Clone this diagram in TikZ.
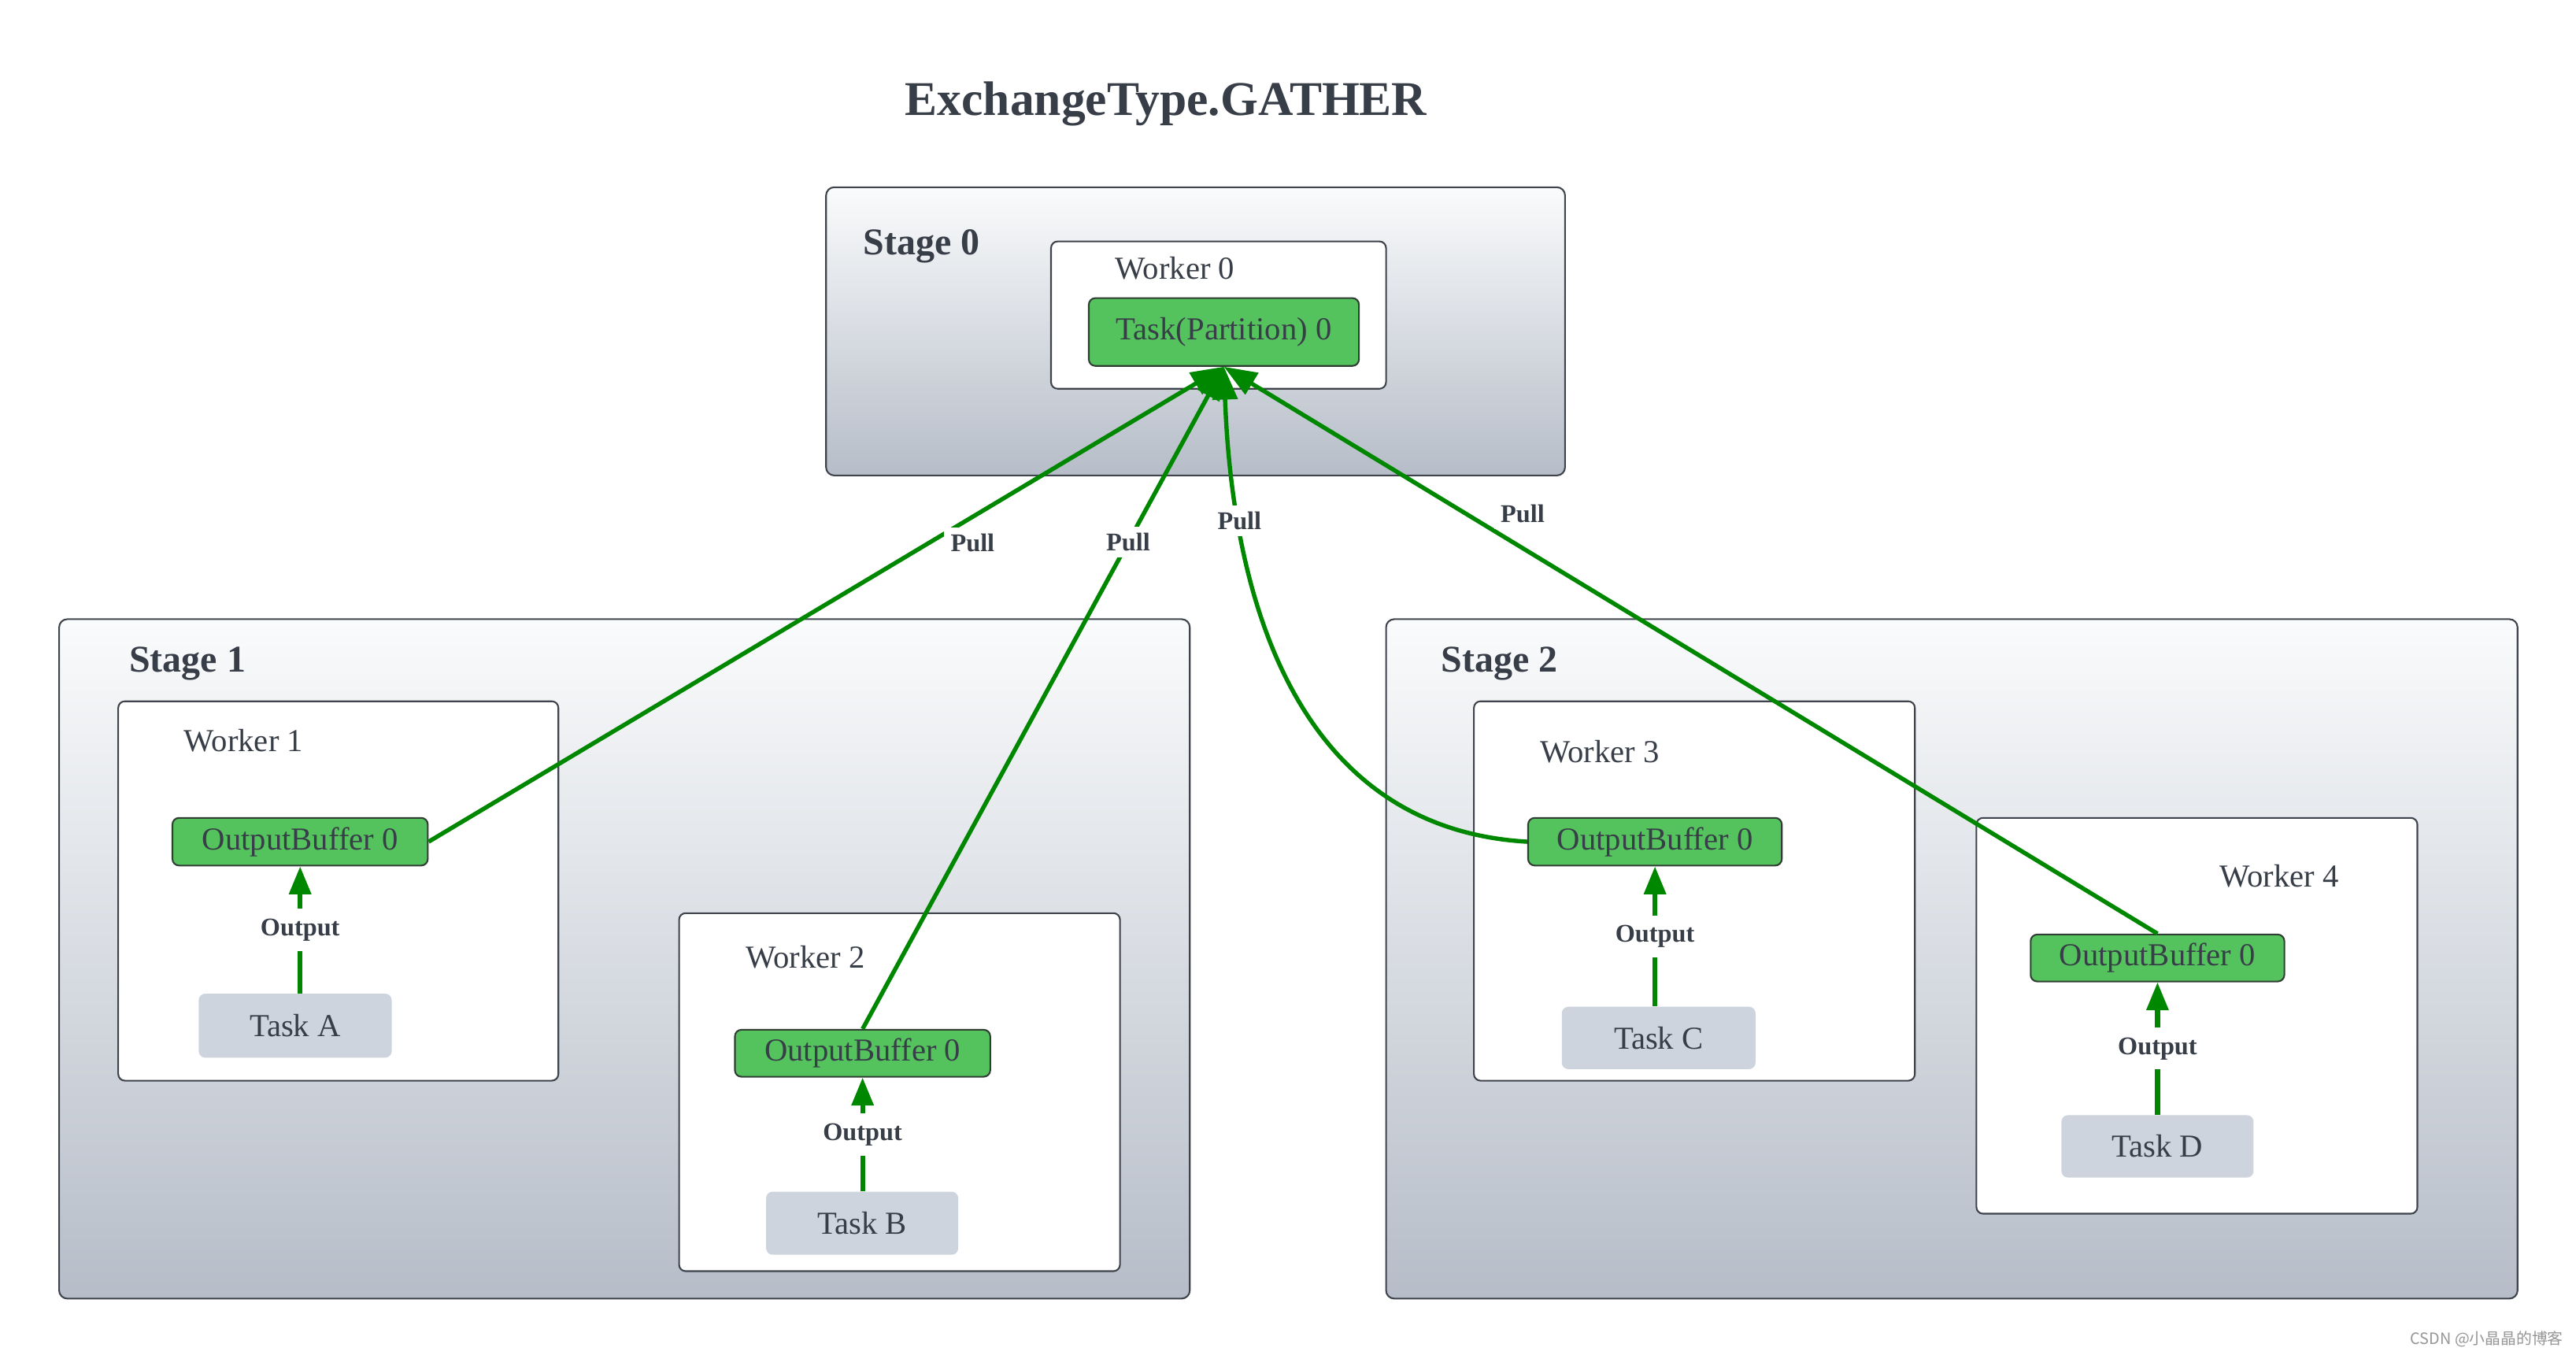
\documentclass[tikz,border=0pt]{standalone}
\usepackage{fontspec}
\setmainfont{Liberation Serif}
\newfontfamily\cjkfont{Noto Sans CJK SC}
\usetikzlibrary{arrows.meta}

\definecolor{txt}{RGB}{56,62,72}
\definecolor{edge}{RGB}{62,67,76}
\definecolor{stagetop}{RGB}{250,251,252}
\definecolor{stagebot}{RGB}{182,189,200}
\definecolor{bufgreen}{RGB}{85,195,93}
\definecolor{bufedge}{RGB}{48,62,52}
\definecolor{taskgray}{RGB}{206,212,221}
\definecolor{flow}{RGB}{0,135,0}
\definecolor{wm}{RGB}{150,150,150}

\newcommand\setfs[1]{\fontsize{#1}{#1}\selectfont}

\begin{document}
\begin{tikzpicture}[x=1pt,y=-1pt,
  stagebox/.style={draw=edge, line width=1pt, rounded corners=5pt, top color=stagetop, bottom color=stagebot, inner sep=0pt},
  workerbox/.style={draw=edge, line width=1pt, rounded corners=4pt, fill=white, inner sep=0pt},
  bufbox/.style={draw=bufedge, line width=1pt, rounded corners=4pt, fill=bufgreen, inner sep=0pt, text=txt, font=\setfs{19.5}},
  taskbox/.style={draw=none, rounded corners=4pt, fill=taskgray, inner sep=0pt, text=txt, font=\setfs{19.5}},
  stagelabel/.style={anchor=base west, inner sep=0pt, text=txt, font=\bfseries\setfs{23}},
  workerlabel/.style={anchor=base west, inner sep=0pt, text=txt, font=\setfs{19.5}},
  outarrow/.style={draw=flow, line width=3pt, -{Triangle[length=17pt,width=13pt]}},
  pullarrow/.style={draw=flow, line width=2.6pt, -{Triangle[length=20pt,width=15pt]}},
  outlabel/.style={fill=white, inner xsep=2pt, inner ysep=6pt, text=txt, font=\bfseries\setfs{15.5}},
  pulllabel/.style={fill=white, inner sep=4pt, text=txt, font=\bfseries\setfs{15.5}}
]
\fill[white] (0,0) rectangle (1568.6,825);
\useasboundingbox (0,0) rectangle (1568.6,825);

% title
\node[anchor=base, inner sep=0pt, text=txt, font=\bfseries\setfs{29.5}] (title) at (710,70) {ExchangeType.GATHER};

% stages
\node[stagebox, minimum width=450pt, minimum height=175.5pt] (s0) at (728,201.75) {};
\node[stagebox, minimum width=688.5pt, minimum height=413.7pt] (s1) at (380.25,583.85) {};
\node[stagebox, minimum width=689pt, minimum height=413.7pt] (s2) at (1188.5,583.85) {};
\node[stagelabel] (s0l) at (525.5,155) {Stage 0};
\node[stagelabel] (s1l) at (78.5,409) {Stage 1};
\node[stagelabel] (s2l) at (877.5,409) {Stage 2};

% workers
\node[workerbox, minimum width=204pt, minimum height=89.7pt] (w0) at (742,191.85) {};
\node[workerbox, minimum width=268pt, minimum height=231pt] (w1) at (206,542.5) {};
\node[workerbox, minimum width=268.5pt, minimum height=218pt] (w2) at (547.75,665) {};
\node[workerbox, minimum width=268.5pt, minimum height=231pt] (w3) at (1031.75,542.5) {};
\node[workerbox, minimum width=268.5pt, minimum height=241pt] (w4) at (1337.75,618.5) {};
\node[workerlabel] (w0l) at (679,169.8) {Worker 0};
\node[workerlabel] (w1l) at (111.8,457.4) {Worker 1};
\node[workerlabel] (w2l) at (454,589.4) {Worker 2};
\node[workerlabel] (w3l) at (937.6,464.3) {Worker 3};
\node[workerlabel] (w4l) at (1351.3,539.8) {Worker 4};

% boxes
\node[bufbox, minimum width=164.5pt, minimum height=41.3pt] (tp) at (745.25,202.15) {Task(Partition) 0};
\node[bufbox, minimum width=155.5pt, minimum height=29pt] (ob1) at (182.75,512.5) {OutputBuffer 0};
\node[bufbox, minimum width=155.5pt, minimum height=28.6pt] (ob2) at (525.25,641.3) {OutputBuffer 0};
\node[bufbox, minimum width=154.5pt, minimum height=29pt] (ob3) at (1007.75,512.5) {OutputBuffer 0};
\node[bufbox, minimum width=154.5pt, minimum height=28.6pt] (ob4) at (1313.75,583.3) {OutputBuffer 0};
\node[taskbox, minimum width=117.5pt, minimum height=39pt] (ta) at (179.75,624.5) {Task A};
\node[taskbox, minimum width=117pt, minimum height=38.4pt] (tb) at (525,744.8) {Task B};
\node[taskbox, minimum width=118pt, minimum height=38pt] (tc) at (1010,632) {Task C};
\node[taskbox, minimum width=117pt, minimum height=38pt] (td) at (1313.75,698) {Task D};

% output arrows
\draw[outarrow] (ob1.south |- ta.north) -- node[outlabel] (o1) {Output} (ob1.south);
\draw[outarrow] (ob2.south |- tb.north) -- node[outlabel] (o2) {Output} (ob2.south);
\draw[outarrow] (ob3.south |- tc.north) -- node[outlabel] (o3) {Output} (ob3.south);
\draw[outarrow] (ob4.south |- td.north) -- node[outlabel] (o4) {Output} (ob4.south);

% pull arrows
\draw[pullarrow] (ob1.east) -- node[pos=0.684, yshift=-16pt, pulllabel] (p1) {Pull} (tp.south);
\draw[pullarrow] (ob2.north) -- node[pos=0.735, pulllabel] (p2) {Pull} (tp.south);
\draw[pullarrow] (ob3.west) .. controls (798,505) and (751,380) .. node[pos=0.79, pulllabel] (p3) {Pull} (tp.south);
\draw[pullarrow] (ob4.north) -- node[pos=0.68, yshift=21pt, pulllabel] (p4) {Pull} (tp.south);

% watermark
\node[anchor=east, inner sep=0pt, text=wm, font=\cjkfont\setfs{9.5}] (wm) at (1561,815.5) {CSDN @小晶晶的博客};
\end{tikzpicture}
\end{document}
